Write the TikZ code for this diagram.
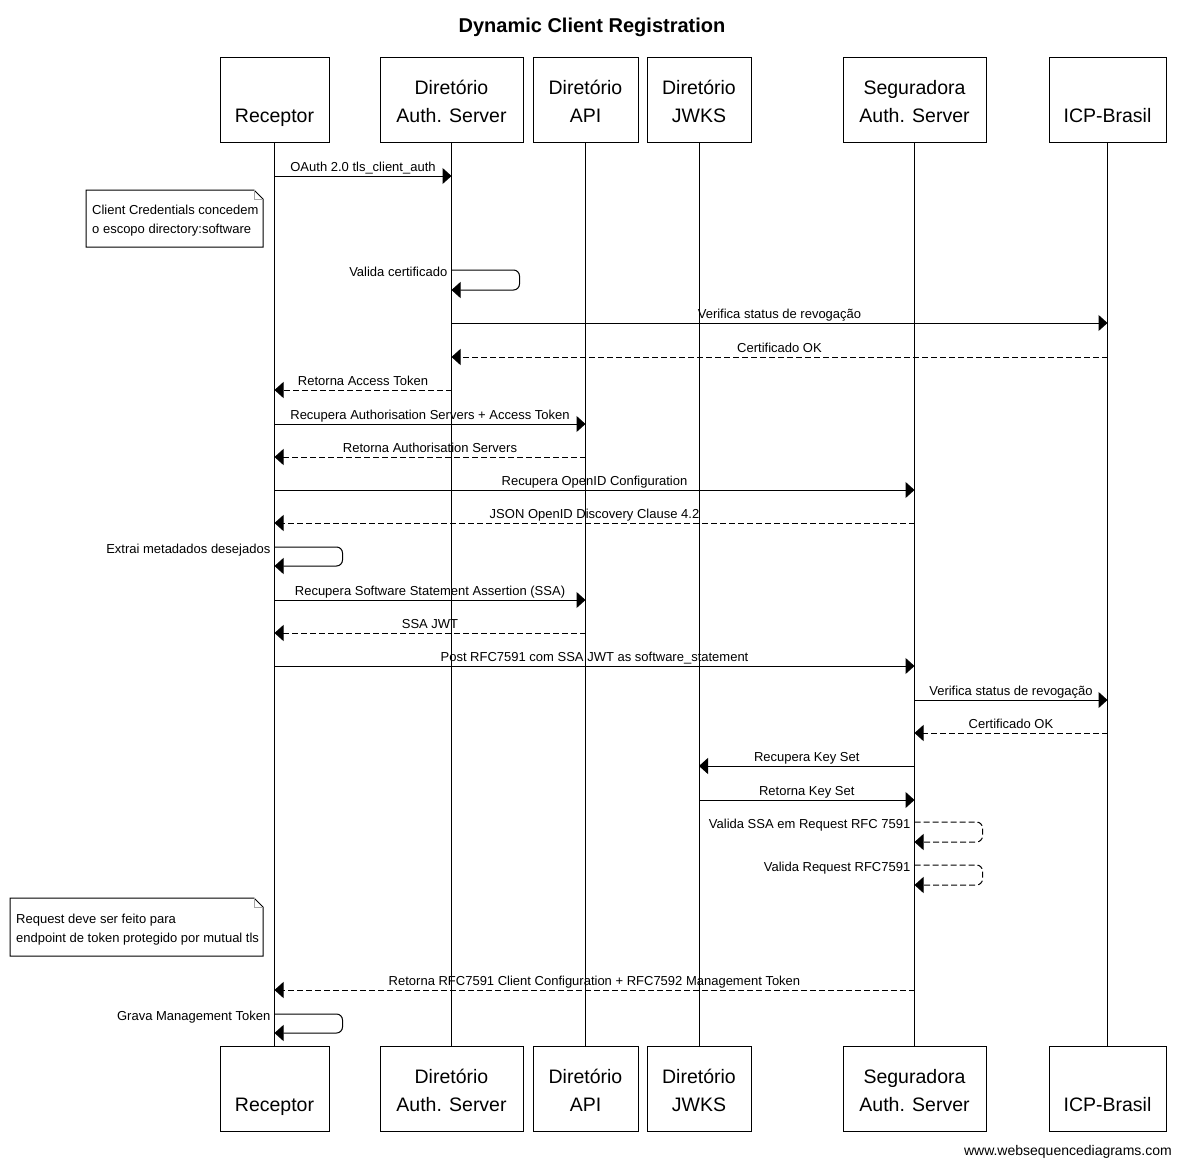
\documentclass[tikz,border=0pt]{standalone}
\usepackage{fontspec}
\setmainfont{Liberation Sans}
\usetikzlibrary{arrows.meta}
\newcommand{\partbox}[6]{%
  \node[pbox, minimum width=#3pt, anchor=north] (#1) at (#2,#4) {};
  \node[ptext] (#1a) at (#2,#4+37) {#5};
  \node[ptext] (#1b) at (#2,#4+65) {#6};
}
\newcommand{\msg}[5]{%
  \draw[#1] (#2.south |- 0,#4) -- (#3.south |- 0,#4) node[lbl, midway] {#5};
}
\newcommand{\selfmsg}[5]{%
  \draw[#1, rounded corners=6pt] (#2.south |- 0,#3) -- ++(68,0) -- ++(0,#4-#3) -- (#2.south |- 0,#4);
  \node[slbl] at ([xshift=-4pt]#2.south |- 0,#3+6.5) {#5};
}
\begin{document}
\begin{tikzpicture}[x=1pt,y=-1pt,
  pbox/.style={draw, line width=1pt, minimum height=85pt, inner sep=0pt, fill=white},
  ptext/.style={anchor=base, inner sep=0pt, font=\fontsize{19.5}{23}\selectfont},
  life/.style={line width=1pt},
  msg/.style={line width=1pt, -{Triangle[length=9pt,width=16pt]}},
  ret/.style={msg, dash pattern=on 6pt off 3pt},
  lbl/.style={anchor=base, inner sep=0pt, yshift=4.5pt, font=\fontsize{13}{15}\selectfont},
  slbl/.style={anchor=base east, inner sep=0pt, font=\fontsize{13}{15}\selectfont},
  notebox/.style={line width=1pt, fill=white},
  fold/.style={line width=1pt, draw=gray!70},
  notetext/.style={anchor=base west, inner sep=0pt, font=\fontsize{13}{15}\selectfont},
]
\useasboundingbox[fill=white] (0,0) rectangle (1181,1165);

\node[anchor=base, inner sep=0pt, font=\bfseries\fontsize{20}{24}\selectfont] (title) at (592,32) {Dynamic Client Registration};

% top participants
\partbox{pR}{274.5}{109}{57}{}{Receptor}
\partbox{pD}{451.5}{143}{57}{Diretório}{Auth. Server}
\partbox{pA}{585.5}{105}{57}{Diretório}{API}
\partbox{pJ}{699}{104}{57}{Diretório}{JWKS}
\partbox{pS}{914.5}{143}{57}{Seguradora}{Auth. Server}
\partbox{pI}{1107.5}{117}{57}{}{ICP-Brasil}
% bottom participants
\partbox{bR}{274.5}{109}{1046}{}{Receptor}
\partbox{bD}{451.5}{143}{1046}{Diretório}{Auth. Server}
\partbox{bA}{585.5}{105}{1046}{Diretório}{API}
\partbox{bJ}{699}{104}{1046}{Diretório}{JWKS}
\partbox{bS}{914.5}{143}{1046}{Seguradora}{Auth. Server}
\partbox{bI}{1107.5}{117}{1046}{}{ICP-Brasil}

% lifelines
\foreach \p in {R,D,A,J,S,I}{\draw[life] (p\p.south) -- (b\p.north);}

% messages
\msg{msg}{pR}{pD}{176}{OAuth 2.0 tls\_client\_auth}

\draw[notebox] (86,190) -- (254,190) -- (263,199) -- (263,247) -- (86,247) -- cycle;
\draw[fold] (254,190) -- (254,199) -- (263,199);
\node[notetext] (n1a) at (92,214) {Client Credentials concedem};
\node[notetext] (n1b) at (92,233) {o escopo directory:software};

\selfmsg{msg}{pD}{270}{290}{Valida certificado}
\msg{msg}{pD}{pI}{323}{Verifica status de revogação}
\msg{ret}{pI}{pD}{357}{Certificado OK}
\msg{ret}{pD}{pR}{390}{Retorna Access Token}
\msg{msg}{pR}{pA}{424}{Recupera Authorisation Servers + Access Token}
\msg{ret}{pA}{pR}{457}{Retorna Authorisation Servers}
\msg{msg}{pR}{pS}{490}{Recupera OpenID Configuration}
\msg{ret}{pS}{pR}{523}{JSON OpenID Discovery Clause 4.2}
\selfmsg{msg}{pR}{547}{566}{Extrai metadados desejados}
\msg{msg}{pR}{pA}{600}{Recupera Software Statement Assertion (SSA)}
\msg{ret}{pA}{pR}{633}{SSA JWT}
\msg{msg}{pR}{pS}{666}{Post RFC7591 com SSA JWT as software\_statement}
\msg{msg}{pS}{pI}{700}{Verifica status de revogação}
\msg{ret}{pI}{pS}{733}{Certificado OK}
\msg{msg}{pS}{pJ}{766}{Recupera Key Set}
\msg{msg}{pJ}{pS}{800}{Retorna Key Set}
\selfmsg{ret}{pS}{822}{842}{Valida SSA em Request RFC 7591}
\selfmsg{ret}{pS}{865}{885}{Valida Request RFC7591}

\draw[notebox] (10,898) -- (254,898) -- (263,907) -- (263,956) -- (10,956) -- cycle;
\draw[fold] (254,898) -- (254,907) -- (263,907);
\node[notetext] (n2a) at (16,923) {Request deve ser feito para};
\node[notetext] (n2b) at (16,942) {endpoint de token protegido por mutual tls};

\msg{ret}{pS}{pR}{990}{Retorna RFC7591 Client Configuration + RFC7592 Management Token}
\selfmsg{msg}{pR}{1014}{1033}{Grava Management Token}

\node[anchor=base east, inner sep=0pt, font=\fontsize{14}{16}\selectfont] (footer) at (1172,1155) {www.websequencediagrams.com};
\end{tikzpicture}
\end{document}
